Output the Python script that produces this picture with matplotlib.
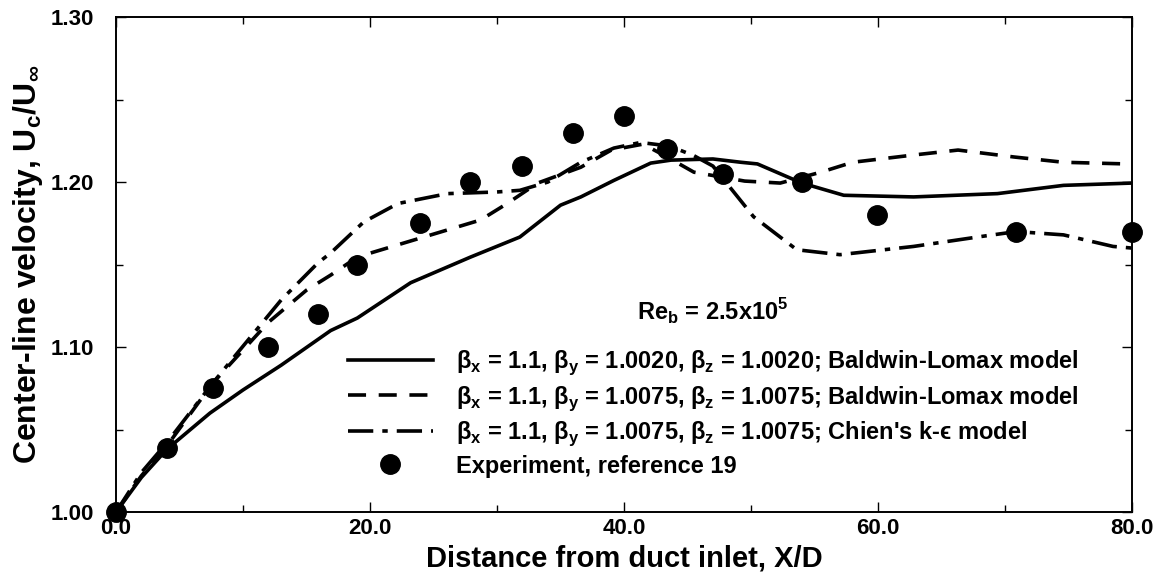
import numpy as np
import matplotlib
matplotlib.use("Agg")
import matplotlib.pyplot as plt
from matplotlib.ticker import MultipleLocator, FormatStrFormatter

# values
bl_lo_x = [0, 2, 4, 7.4, 10, 13, 16.9, 19, 23.2, 27.9, 31.8, 35, 36.6, 39.2, 42.1,
           43.7, 47, 49.2, 50.5, 54, 57.3, 62.8, 69.4, 74.6, 80]
bl_lo_y = [1.00, 1.021, 1.038, 1.060, 1.074, 1.089, 1.110, 1.1176, 1.139, 1.1545, 1.1667,
           1.186, 1.191, 1.201, 1.2115, 1.2133, 1.214, 1.212, 1.211, 1.1994, 1.192, 1.191,
           1.193, 1.198, 1.1994]

bl_hi_x = [0, 2, 4, 7.6, 12, 15, 16.9, 19, 20.3, 24.8, 28.7, 30.8, 33.2, 36.6, 39,
           41.5, 43.2, 45.5, 49.5, 52.3, 55.5, 58, 62.8, 66.3, 70.7, 74.6, 80]
bl_hi_y = [1.00, 1.022, 1.040, 1.078, 1.115, 1.1345, 1.1436, 1.1545, 1.1576, 1.168, 1.177,
           1.187, 1.1994, 1.209, 1.2194, 1.223, 1.216, 1.206, 1.2006, 1.1994, 1.206, 1.212,
           1.2164, 1.2194, 1.2152, 1.212, 1.2109]

ke_x = [0, 2, 4, 7.6, 9.3, 13, 15.9, 16.9, 19.5, 22.2, 26.1, 30, 31.8, 34, 36.6, 39.2,
        41.3, 43.6, 45.5, 47, 50.2, 53.6, 57, 62.8, 68.1, 70.9, 74.6, 78.5, 80]
ke_y = [1.00, 1.024, 1.042, 1.078, 1.094, 1.1285, 1.151, 1.157, 1.1758, 1.187, 1.193,
        1.194, 1.195, 1.200, 1.212, 1.2206, 1.224, 1.2218, 1.216, 1.2097, 1.179, 1.159,
        1.156, 1.161, 1.167, 1.170, 1.168, 1.161, 1.160]

exp_x = [0, 4.0, 7.6, 12.0, 15.9, 19.0, 23.9, 27.9, 32.0, 36.0, 40.0, 43.4, 47.8,
         54.0, 59.9, 70.9, 80.0]
exp_y = [1.00, 1.039, 1.075, 1.100, 1.120, 1.150, 1.175, 1.200, 1.210, 1.230, 1.240,
         1.220, 1.205, 1.200, 1.180, 1.170, 1.170]

labels = [
    r"β$_\mathregular{x}$ = 1.1, β$_\mathregular{y}$ = 1.0020, β$_\mathregular{z}$ = 1.0020; Baldwin-Lomax model",
    r"β$_\mathregular{x}$ = 1.1, β$_\mathregular{y}$ = 1.0075, β$_\mathregular{z}$ = 1.0075; Baldwin-Lomax model",
    r"β$_\mathregular{x}$ = 1.1, β$_\mathregular{y}$ = 1.0075, β$_\mathregular{z}$ = 1.0075; Chien's k-ϵ model",
    "Experiment, reference 19",
]

plt.rcParams["font.family"] = ["Liberation Sans", "DejaVu Sans"]
plt.rcParams["font.weight"] = "bold"
plt.rcParams["font.size"] = 16

fig = plt.figure(figsize=(11.54, 5.78), dpi=100)
ax = fig.add_axes([0.1005, 0.114, 0.8805, 0.8565])

lw = 2.6
ax.plot(bl_lo_x, bl_lo_y, color="black", lw=lw, ls="-", label=labels[0])
ax.plot(bl_hi_x, bl_hi_y, color="black", lw=lw, ls=(0, (5, 3.5)), label=labels[1])
ax.plot(ke_x, ke_y, color="black", lw=lw, ls=(0, (7, 2.5, 1.5, 2.5)), label=labels[2])
ax.plot(exp_x, exp_y, "o", color="black", ms=14, ls="none", clip_on=False,
        zorder=4, label=labels[3])

ax.text(47.0, 1.121, r"Re$_\mathregular{b}$ = 2.5x10$^\mathregular{5}$", ha="center",
        va="center", fontsize=17)

ax.set_xlim(0, 80)
ax.set_ylim(1.0, 1.3)
ax.xaxis.set_major_locator(MultipleLocator(20))
ax.xaxis.set_minor_locator(MultipleLocator(10))
ax.yaxis.set_major_locator(MultipleLocator(0.1))
ax.yaxis.set_minor_locator(MultipleLocator(0.05))
ax.xaxis.set_major_formatter(FormatStrFormatter("%.1f"))
ax.yaxis.set_major_formatter(FormatStrFormatter("%.2f"))
ax.tick_params(which="both", direction="in", top=True, right=True, width=1.0)
ax.tick_params(which="major", length=7, labelsize=16)
ax.tick_params(axis="x", which="major", pad=4)
ax.tick_params(axis="y", which="major", pad=16)
ax.tick_params(which="minor", length=5)
for s in ax.spines.values():
    s.set_linewidth(1.4)

ax.set_xlabel("Distance from duct inlet, X/D", fontsize=21, fontweight="bold", labelpad=4)
ax.set_ylabel(r"Center-line velocity, U$_\mathregular{c}$/U$_\mathregular{∞}$",
              fontsize=23, fontweight="bold", labelpad=4)

ax.legend(loc="upper left", bbox_to_anchor=(0.228, 0.33), frameon=False, fontsize=17,
          handlelength=3.6, handletextpad=1.0, labelspacing=0.28, borderpad=0,
          borderaxespad=0)

fig.savefig("out.png", dpi=100, facecolor="white")
